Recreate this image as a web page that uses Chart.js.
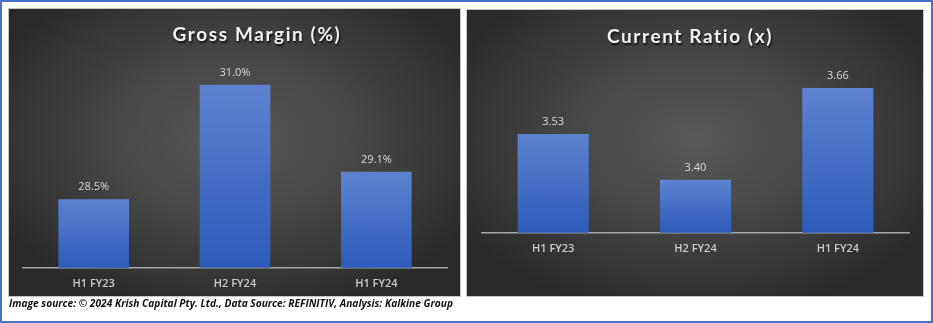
<!DOCTYPE html>
<html>
<head>
<meta charset="utf-8">
<script src="https://cdn.jsdelivr.net/npm/chart.js@4/dist/chart.umd.min.js"></script>
<style>
  html, body { margin: 0; padding: 0; background: #ffffff; }
  #frame {
    position: absolute; left: 0; top: 0; width: 933px; height: 323px;
    box-sizing: border-box; border: 2px solid #4472c4; background: #ffffff;
  }
  .panel {
    position: absolute; box-sizing: border-box;
    border: 1px solid #c4c4c4;
    background: radial-gradient(ellipse 60% 62% at 50% 45%, #595959 0%, #474747 45%, #2a2a2a 100%);
  }
  .panel canvas { position: absolute; left: -1px; top: -1px; }
  #left  { left: 8px;   top: 8px; width: 453px; height: 289px; }
  #right { left: 466px; top: 9px; width: 458px; height: 288px; }
  #caption {
    position: absolute; left: 9px; top: 295px; white-space: nowrap;
    font: italic 700 11px "Open Sans", "Lato", sans-serif; color: #111111;
    transform-origin: 0 50%;
  }
</style>
</head>
<body>
<div id="frame"></div>
<div class="panel" id="left"><canvas id="gm" width="453" height="289"></canvas></div>
<div class="panel" id="right"><canvas id="cr" width="458" height="288"></canvas></div>
<div id="caption">Image source: © 2024 Krish Capital Pty. Ltd., Data Source: REFINITIV, Analysis: Kalkine Group</div>
<script>
// Periods shown on both charts
const categories = ['H1 FY23', 'H2 FY24', 'H1 FY24'];
// Gross margin, percent
const grossMargin = [28.5, 31.0, 29.1];
// Current ratio, times
const currentRatio = [3.53, 3.40, 3.66];

// Fit the source line to its column width
(function () {
  const cap = document.getElementById('caption');
  const w = cap.getBoundingClientRect().width;
  cap.style.transform = 'scaleX(' + (444 / w) + ')';
})();

// Vertical gradient fill for each bar, light at the top and deeper at the base
function barFill(ctx) {
  const chart = ctx.chart;
  const area = chart.chartArea;
  if (!area || ctx.type !== 'data') return '#4472c4';
  const top = chart.scales.y.getPixelForValue(ctx.raw);
  const g = chart.ctx.createLinearGradient(0, top, 0, area.bottom);
  g.addColorStop(0, '#5d82d0');
  g.addColorStop(1, '#2d5bb9');
  return g;
}

// Value labels above every bar
const valueLabels = {
  id: 'valueLabels',
  afterDatasetsDraw(chart, args, opts) {
    const c = chart.ctx;
    const meta = chart.getDatasetMeta(0);
    const data = chart.data.datasets[0].data;
    c.save();
    c.font = '11px "Open Sans", sans-serif';
    c.fillStyle = '#d9d9d9';
    c.textAlign = 'center';
    c.textBaseline = 'middle';
    meta.data.forEach((bar, i) => {
      c.fillText(opts.format(data[i]), bar.x, bar.y - 12);
    });
    c.restore();
  }
};

// Chart heading with a soft drop shadow
const heading = {
  id: 'heading',
  afterDraw(chart, args, opts) {
    const c = chart.ctx;
    c.save();
    c.font = 'bold 19px Lato, "Open Sans", sans-serif';
    c.letterSpacing = opts.spacing + 'px';
    c.fillStyle = '#f2f2f2';
    c.textAlign = 'center';
    c.textBaseline = 'middle';
    c.shadowColor = 'rgba(0,0,0,0.75)';
    c.shadowOffsetX = 1;
    c.shadowOffsetY = 2;
    c.shadowBlur = 2;
    c.fillText(opts.text, opts.x, opts.y);
    c.restore();
  }
};

function makeChart(id, values, yMin, yMax, pad, fmt, title) {
  return new Chart(document.getElementById(id), {
    type: 'bar',
    data: {
      labels: categories,
      datasets: [{
        data: values,
        backgroundColor: barFill,
        borderWidth: 0,
        barPercentage: 0.5,
        categoryPercentage: 1.0
      }]
    },
    options: {
      responsive: false,
      animation: false,
      devicePixelRatio: 1,
      layout: { padding: pad },
      plugins: {
        legend: { display: false },
        tooltip: { enabled: false },
        valueLabels: { format: fmt },
        heading: title
      },
      scales: {
        x: {
          grid: { display: false, drawTicks: false },
          border: { display: true, color: '#a6a6a6', width: 1.5 },
          ticks: {
            color: '#cccccc',
            padding: 9,
            font: { family: '"Open Sans", sans-serif', size: 11, weight: '600' }
          }
        },
        y: { display: false, min: yMin, max: yMax }
      }
    },
    plugins: [valueLabels, heading]
  });
}

makeChart('gm', grossMargin, 27, 31.5,
  { left: 15, right: 14, top: 54, bottom: -2 },
  v => v.toFixed(1) + '%',
  { text: 'Gross Margin (%)', x: 249, y: 27, spacing: 1.6 });

makeChart('cr', currentRatio, 3.25, 3.7,
  { left: 16, right: 15, top: 65, bottom: 33 },
  v => v.toFixed(2),
  { text: 'Current Ratio (x)', x: 224, y: 28, spacing: 1.6 });
</script>
</body>
</html>
